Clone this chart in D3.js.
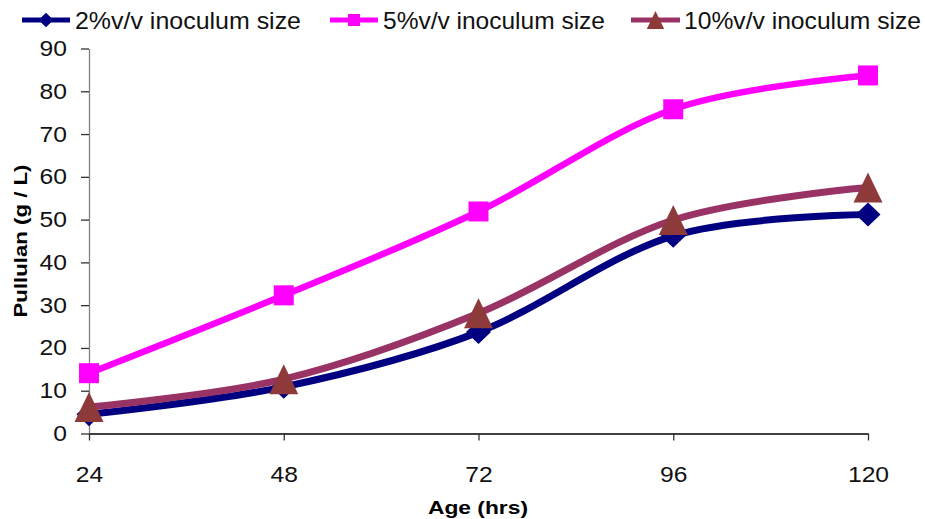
<!DOCTYPE html>
<html><head><meta charset="utf-8">
<script src="https://cdn.jsdelivr.net/npm/d3@7"></script>
<style>body{margin:0;background:#fff}svg{display:block}text{font-family:"Liberation Sans",Arial,sans-serif}</style>
</head><body><svg id="c" width="925" height="519"></svg>
<script>
const ages = [24, 48, 72, 96, 120];
const seriesNames = ["2%v/v inoculum size", "5%v/v inoculum size", "10%v/v inoculum size"];
const s2 = [4.5, 10.9, 23.7, 46.2, 51.2];
const s5 = [14.1, 32.3, 51.9, 75.8, 83.7];
const s10 = [6.2, 12.7, 28.1, 49.9, 57.5];
const yTicks = [0, 10, 20, 30, 40, 50, 60, 70, 80, 90];
const xTitle = "Age (hrs)";
const yTitle = "Pullulan (g / L)";

const series = [
  {name: seriesNames[0], values: s2, line: "#000080", fill: "#000080", shape: "diamond", w: 7},
  {name: seriesNames[1], values: s5, line: "#FF00FF", fill: "#FF00FF", shape: "square", w: 6.5},
  {name: seriesNames[2], values: s10, line: "#993366", fill: "#8E3A3A", shape: "triangle", w: 7}
];

const svg = d3.select("#c");
const x = d3.scaleLinear().domain([24, 120]).range([89, 868]);
const y = d3.scaleLinear().domain([0, 90]).range([433.5, 48.5]);

function widen(sel, k) {
  sel.each(function() {
    const w = this.getComputedTextLength();
    d3.select(this).attr("textLength", w * k).attr("lengthAdjust", "spacingAndGlyphs");
  });
}

// Y axis
const ya = svg.append("g").attr("transform", "translate(89,0)")
  .call(d3.axisLeft(y).tickValues(yTicks).tickSize(8).tickPadding(14).tickSizeOuter(0));
ya.select(".domain").attr("stroke", "#808080").attr("stroke-width", 1.3);
ya.selectAll(".tick line").attr("stroke", "#333").attr("stroke-width", 1.3);
ya.selectAll("text").attr("font-size", 22).attr("fill", "#111").attr("font-family", "Liberation Sans, Arial");
widen(ya.selectAll("text"), 1.12);

// X axis
const xa = svg.append("g").attr("transform", "translate(0,433.5)")
  .call(d3.axisBottom(x).tickValues(ages).tickSize(7).tickPadding(26).tickSizeOuter(0));
xa.select(".domain").attr("stroke", "#000").attr("stroke-width", 1.3);
xa.selectAll(".tick line").attr("stroke", "#333").attr("stroke-width", 1.3);
xa.selectAll("text").attr("font-size", 22).attr("fill", "#111").attr("font-family", "Liberation Sans, Arial");
widen(xa.selectAll("text"), 1.12);

// titles
svg.append("text").attr("x", 478).attr("y", 514).attr("text-anchor", "middle")
  .attr("font-size", 19).attr("font-weight", "bold").attr("textLength", 100).attr("lengthAdjust", "spacingAndGlyphs").text(xTitle);
svg.append("text").attr("transform", "translate(27,241) rotate(-90)").attr("text-anchor", "middle")
  .attr("font-size", 19).attr("font-weight", "bold").attr("textLength", 153).attr("lengthAdjust", "spacingAndGlyphs").text(yTitle);

function marker(g, shape, cx, cy, fill, k) {
  if (shape === "diamond") {
    const hw = 12.5 * k, hh = 12 * k;
    g.append("path").attr("d", `M${cx},${cy - hh}L${cx + hw},${cy}L${cx},${cy + hh}L${cx - hw},${cy}Z`).attr("fill", fill);
  } else if (shape === "square") {
    const h = 10 * k;
    g.append("rect").attr("x", cx - h).attr("y", cy - h).attr("width", 2 * h).attr("height", 2 * h).attr("fill", fill);
  } else {
    const hw = 14.5 * k, hh = 15 * k;
    g.append("path").attr("d", `M${cx},${cy - hh}L${cx + hw},${cy + hh}L${cx - hw},${cy + hh}Z`).attr("fill", fill);
  }
}

const line = d3.line().x(d => x(d[0])).y(d => y(d[1])).curve(d3.curveCardinal.tension(0));
series.forEach(s => {
  const pts = ages.map((a, i) => [a, s.values[i]]);
  const g = svg.append("g");
  g.append("path").attr("d", line(pts)).attr("fill", "none").attr("stroke", s.line).attr("stroke-width", s.w);
  pts.forEach(p => marker(g, s.shape, x(p[0]), y(p[1]), s.fill, 1));
});

// legend
const leg = [
  {x0: 22, x1: 70, tx: 75, tl: 226},
  {x0: 330, x1: 378, tx: 383, tl: 222},
  {x0: 631, x1: 680, tx: 684, tl: 237}
];
series.forEach((s, i) => {
  const L = leg[i], ly = 20;
  const g = svg.append("g");
  g.append("line").attr("x1", L.x0).attr("x2", L.x1).attr("y1", ly).attr("y2", ly).attr("stroke", s.line).attr("stroke-width", 5);
  marker(g, s.shape, (L.x0 + L.x1) / 2, ly, s.fill, 0.6);
  g.append("text").attr("x", L.tx).attr("y", ly + 8.5).attr("font-size", 24).attr("fill", "#111")
    .attr("textLength", L.tl).attr("lengthAdjust", "spacingAndGlyphs").text(s.name);
});
</script></body></html>
